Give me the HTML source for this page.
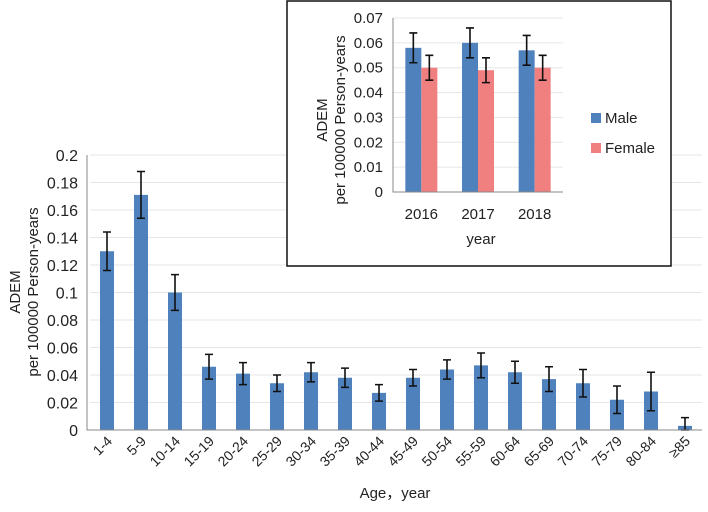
<!DOCTYPE html>
<html><head><meta charset="utf-8"><style>
body{margin:0;background:#fff}
svg{display:block;font-family:"Liberation Sans","Noto Sans CJK SC",sans-serif}
</style></head><body>
<svg id="c" width="708" height="512"></svg>
<script>
const cats=["1-4","5-9","10-14","15-19","20-24","25-29","30-34","35-39","40-44","45-49","50-54","55-59","60-64","65-69","70-74","75-79","80-84","≥85"];
const vals=[0.130,0.171,0.100,0.046,0.041,0.034,0.042,0.038,0.027,0.038,0.044,0.047,0.042,0.037,0.034,0.022,0.028,0.003];
const hi=[0.144,0.188,0.113,0.055,0.049,0.040,0.049,0.045,0.033,0.044,0.051,0.056,0.050,0.046,0.044,0.032,0.042,0.009];
const lo=[0.116,0.154,0.087,0.037,0.033,0.028,0.035,0.031,0.021,0.032,0.037,0.038,0.034,0.028,0.024,0.012,0.014,0.000];
const yTicks=[0,0.02,0.04,0.06,0.08,0.1,0.12,0.14,0.16,0.18,0.2];
const years=["2016","2017","2018"];
const male=[0.058,0.060,0.057];
const maleHi=[0.064,0.066,0.063];
const maleLo=[0.052,0.054,0.051];
const female=[0.050,0.049,0.050];
const femaleHi=[0.055,0.054,0.055];
const femaleLo=[0.045,0.044,0.045];
const insetTicks=[0,0.01,0.02,0.03,0.04,0.05,0.06,0.07];

const NS="http://www.w3.org/2000/svg";
const svg=document.getElementById('c');
function mk(t,a,p){const e=document.createElementNS(NS,t);for(const k in a)e.setAttribute(k,a[k]);(p||svg).appendChild(e);return e;}

// main chart
const x0=90,x1=702,y0=430,yTop=155;
const y=v=>y0-(v/0.2)*(y0-yTop);
const bw=(x1-x0)/cats.length;
const xc=i=>x0+bw*(i+0.5);
yTicks.forEach(t=>{
  if(t>0){const g=mk('line',{x1:x0,x2:x1,y1:y(t),y2:y(t),stroke:'#e6e6e6','stroke-width':1});
  
  }
  const l=mk('text',{x:x0-12,y:y(t)+6,'text-anchor':'end','font-size':16,fill:'#222'});
  l.textContent=String(t);
  
  
});
cats.forEach((c,i)=>{
  const r=mk('rect',{x:xc(i)-7,y:y(vals[i]),width:14,height:y0-y(vals[i]),fill:'#4f81bd'});
  
  
  const e=mk('path',{d:`M${xc(i)},${y(hi[i])}V${y(lo[i])}M${xc(i)-4},${y(hi[i])}h8M${xc(i)-4},${y(lo[i])}h8`,stroke:'#111','stroke-width':1.6,fill:'none'});
  
  
  const t=mk('text',{x:0,y:0,'text-anchor':'end','font-size':14,fill:'#222',transform:`translate(${xc(i)+6},${y0+12}) rotate(-45)`});
  t.textContent=c;
  
  
});
const ax=mk('path',{d:`M${x0-3},${yTop}V${y0}H${x1}`,stroke:'#888','stroke-width':1,fill:'none'});



const xt=mk('text',{x:395,y:498,'text-anchor':'middle','font-size':15,fill:'#222'});
xt.textContent='Age，year';


const yt=mk('text',{x:0,y:0,'text-anchor':'middle','font-size':15,fill:'#222',transform:'translate(20,292) rotate(-90)'});


const ts1=mk('tspan',{x:0,dy:0},yt);ts1.textContent='ADEM';
const ts2=mk('tspan',{x:0,dy:18},yt);ts2.textContent='per 100000 Person-years';

// inset
const box=mk('rect',{x:287,y:1,width:384,height:265,fill:'#fff',stroke:'#111','stroke-width':1.5});


const ix0=393,ix1=563,iy0=192,iyTop=18;
const iy=v=>iy0-(v/0.07)*(iy0-iyTop);
const gw=(ix1-ix0)/years.length;
insetTicks.forEach(t=>{
  if(t>0){const g=mk('line',{x1:ix0,x2:ix1,y1:iy(t),y2:iy(t),stroke:'#e6e6e6'});
  
  }
  const l=mk('text',{x:ix0-10,y:iy(t)+5,'text-anchor':'end','font-size':15,fill:'#222'});
  l.textContent=String(t);
  
  
});
function ibar(v,h,l,cx,col,nm){
  const r=mk('rect',{x:cx-8,y:iy(v),width:16,height:iy0-iy(v),fill:col});
  
  
  const e=mk('path',{d:`M${cx},${iy(h)}V${iy(l)}M${cx-4},${iy(h)}h8M${cx-4},${iy(l)}h8`,stroke:'#111','stroke-width':1.6,fill:'none'});
  
  
}
years.forEach((yr,i)=>{
  const c=ix0+gw*(i+0.5);
  ibar(male[i],maleHi[i],maleLo[i],c-8,'#4f81bd','bar-male-'+yr);
  ibar(female[i],femaleHi[i],femaleLo[i],c+8,'#f08080','bar-female-'+yr);
  const t=mk('text',{x:c,y:iy0+27,'text-anchor':'middle','font-size':15,fill:'#222'});
  t.textContent=yr;
  
  
});
const iax=mk('path',{d:`M${ix0},${iyTop}V${iy0}H${ix1}`,stroke:'#888',fill:'none'});


const ixt=mk('text',{x:481,y:244,'text-anchor':'middle','font-size':15,fill:'#222'});
ixt.textContent='year';


const iyt=mk('text',{x:0,y:0,'text-anchor':'middle','font-size':15,fill:'#222',transform:'translate(327,120) rotate(-90)'});


const a1=mk('tspan',{x:0,dy:0},iyt);a1.textContent='ADEM';
const a2=mk('tspan',{x:0,dy:18},iyt);a2.textContent='per 100000 Person-years';
[['Male','#4f81bd',118],['Female','#f08080',148]].forEach(([n,c,yy])=>{
  const g=mk('g',{});
  
  
  mk('rect',{x:591,y:yy-5,width:10,height:10,fill:c},g);
  const t=mk('text',{x:605,y:yy+5,'font-size':15,fill:'#222'},g);
  t.textContent=n;
});
</script>
</body></html>
